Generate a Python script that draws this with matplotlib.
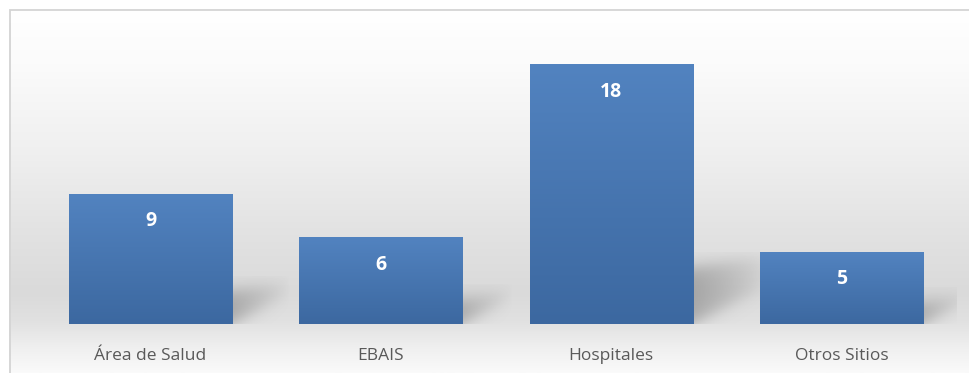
import numpy as np
import matplotlib.pyplot as plt
from matplotlib.colors import LinearSegmentedColormap
from matplotlib.patches import Rectangle

# datos
categorias = ['Área de Salud', 'EBAIS', 'Hospitales', 'Otros Sitios']
valores = [9, 6, 18, 5]

W, H = 969, 373
fig = plt.figure(figsize=(W / 100, H / 100), dpi=100)
fig.patch.set_facecolor('white')

# fondo con degradado vertical (dentro del marco)
bg = fig.add_axes([9 / W, 0, (W - 9) / W, (H - 9) / H], zorder=0)
bg_cmap = LinearSegmentedColormap.from_list('bg', [
    (0.00, '#ffffff'), (0.15, '#fbfbfb'), (0.40, '#efefef'),
    (0.62, '#e2e2e2'), (0.78, '#dadada'), (0.86, '#e1e1e1'),
    (0.93, '#efefef'), (1.00, '#fafafa')])
grad = np.linspace(0, 1, 256).reshape(-1, 1)
bg.imshow(grad, cmap=bg_cmap, aspect='auto', extent=[0, 1, 1, 0])
bg.set_xlim(0, 1)
bg.set_ylim(1, 0)
bg.axis('off')

# marco (abierto por abajo y por la derecha, como en la imagen)
fig.patches.append(Rectangle((9.5 / W, -0.05), 1.0, (H - 9.5) / H + 0.05,
                             transform=fig.transFigure, fill=False,
                             edgecolor='#d4d4d4', linewidth=1.3, zorder=5))

# ejes principales
x0_px, x1_px = 35.4, 956.6
base_px = 324
ymax = 20
px_per_unit = 14.4
ax = fig.add_axes([x0_px / W, (H - base_px) / H, (x1_px - x0_px) / W,
                   ymax * px_per_unit / H], zorder=1)
ax.patch.set_alpha(0)

x = np.arange(len(categorias))
bars = ax.bar(x, valores, width=0.708, color='#4a7ab5', zorder=3)

bar_cmap = LinearSegmentedColormap.from_list('bar', ['#5283c0', '#3c68a0'])
xpx = (x1_px - x0_px) / 4  # px por unidad en x

for b, v in zip(bars, valores):
    bx, bw, bh = b.get_x(), b.get_width(), b.get_height()
    # degradado de la barra
    ax.imshow(grad, cmap=bar_cmap, aspect='auto',
              extent=[bx, bx + bw, 0, bh], zorder=3)
    b.set_visible(False)

    # sombra difusa a la derecha
    L = 25 + 2.5 * v          # largo en px
    Hs = 8 + 2.7 * v          # alto en px
    nu, nv = 120, 120
    u = np.linspace(0, L + 15, nu)
    vv = np.linspace(0, Hs + 15, nv)
    U, V = np.meshgrid(u, vv)
    lo = 0.5 * U
    s = 5.0
    a = 1 / (1 + np.exp(-(V - lo) / s)) * 1 / (1 + np.exp(-(Hs + 0.15 * U - V) / s))
    a *= np.clip(1 - U / (L + 10), 0, 1) ** 0.8
    a *= 0.5
    rgba = np.zeros((nv, nu, 4))
    rgba[..., :3] = 0.45
    rgba[..., 3] = a
    ax.imshow(rgba[::-1], aspect='auto',
              extent=[bx + bw, bx + bw + (L + 15) / xpx, 0, (Hs + 15) / px_per_unit],
              zorder=2)

    # etiqueta del valor
    ax.text(b.get_x() + bw / 2, bh - 27 / px_per_unit, str(v),
            ha='center', va='center', color='white', fontsize=14,
            fontweight='bold', family='Open Sans', zorder=4)

ax.set_xlim(-0.5, 3.5)
ax.set_ylim(0, ymax)
ax.set_xticks(x)
ax.set_xticklabels(categorias, family='Open Sans', fontsize=12.5, color='#595959')
ax.tick_params(axis='x', length=0, pad=17)
ax.set_yticks([])
for sp in ax.spines.values():
    sp.set_visible(False)

fig.savefig('out.png', dpi=100)
